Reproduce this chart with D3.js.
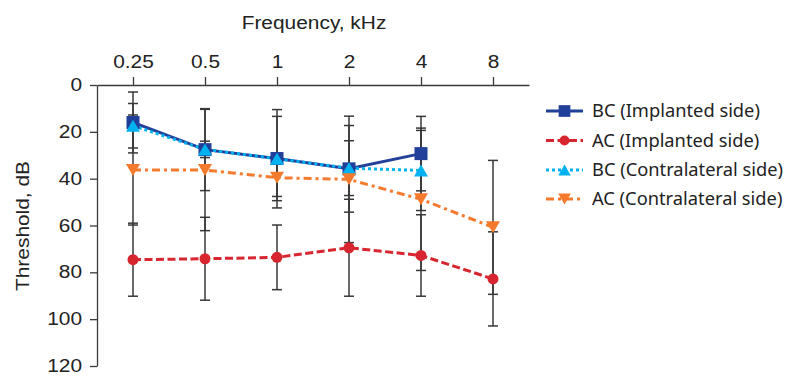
<!DOCTYPE html>
<html>
<head>
<meta charset="utf-8">
<script src="https://cdn.jsdelivr.net/npm/d3@7"></script>
<style>
body{margin:0;background:#fff;}
svg{display:block;}
.ax text{font-family:"Liberation Sans",Arial,sans-serif;font-size:18.5px;fill:#222;}
.ax path,.ax line{stroke:#3a3a3a;stroke-width:1.3;}
.leg text{font-family:"Noto Sans","Open Sans",sans-serif;font-size:18.3px;fill:#222;}
</style>
</head>
<body>
<div id="chart"></div>
<script>
const freqs=["0.25","0.5","1","2","4","8"];
const yTicks=[0,20,40,60,80,100,120];

// mean thresholds, dB (null = not measured)
const bcImp=[16,27.6,31.4,35.8,29.3,null];
const acImp=[74.6,74.2,73.6,69.5,72.8,82.8];
const bcCon=[17.4,27.5,31.5,35.5,36.5,null];
const acCon=[36.3,36.3,39.6,40.3,48.8,60.8];

// standard deviations
const bcImpSd=[13,17.5,18,18.5,15.9,null];
const acImpSd=[15.6,17.7,13.8,20.7,17.4,20.1];
const bcConSd=[9.5,3.5,21,11.7,17.1,null];
const acConSd=[23.5,25.9,8,27,30.4,28.6];

const series=[
  {name:"BC (Implanted side)",vals:bcImp,sd:bcImpSd,color:"#21409a",dash:null,marker:"square"},
  {name:"AC (Implanted side)",vals:acImp,sd:acImpSd,color:"#d7262f",dash:"8,3.5",marker:"circle"},
  {name:"BC (Contralateral side)",vals:bcCon,sd:bcConSd,color:"#00b2ef",dash:"3,3",marker:"triangle"},
  {name:"AC (Contralateral side)",vals:acCon,sd:acConSd,color:"#f47a2e",dash:"8,4,3,4",marker:"down"}
];
const drawOrder=[1,0,2,3];

const W=786,H=376;
const SX=1.13;
const svg=d3.select("#chart").append("svg").attr("width",W).attr("height",H);

const x=d3.scalePoint().domain(freqs).range([97,529]).padding(0.5);
const y=d3.scaleLinear().domain([0,120]).range([85,366]);

// axes
const gx=svg.append("g").attr("class","ax").attr("transform","translate(0,85)")
  .call(d3.axisTop(x).tickSize(8).tickSizeOuter(0).tickPadding(9));
gx.selectAll("text").attr("transform",`scale(${SX},1)`);

const gy=svg.append("g").attr("class","ax").attr("transform","translate(97,0)")
  .call(d3.axisLeft(y).tickValues(yTicks).tickSize(7).tickSizeOuter(0).tickPadding(8));
gy.selectAll("text").attr("x",-15/SX).attr("dy","0.3em").attr("transform",`scale(${SX},1)`);

const ax=svg.append("g").attr("class","ax");
ax.append("text").attr("text-anchor","middle")
  .attr("transform",`translate(314,28.5) scale(${SX},1)`)
  .text("Frequency, kHz");
ax.append("text").attr("text-anchor","middle")
  .attr("transform",`translate(29,226) rotate(-90) scale(${SX},1)`)
  .text("Threshold, dB");

// error bars
const eb=svg.append("g").attr("stroke","#383838").attr("stroke-width",1.5);
series.forEach(s=>{
  freqs.forEach((f,i)=>{
    const v=s.vals[i],sd=s.sd[i];
    if(v==null||sd==null)return;
    const cx=x(f);
    eb.append("line").attr("x1",cx).attr("x2",cx).attr("y1",y(v-sd)).attr("y2",y(v+sd));
    [v-sd,v+sd].forEach(c=>{
      eb.append("line").attr("x1",cx-5).attr("x2",cx+5).attr("y1",y(c)).attr("y2",y(c));
    });
  });
});

function marker(g,type,cx,cy,color,k){
  k=k||1;
  if(type==="square"){
    const s=13*k;
    g.append("rect").attr("x",cx-s/2).attr("y",cy-s/2).attr("width",s).attr("height",s).attr("fill",color);
  }else if(type==="circle"){
    g.append("circle").attr("cx",cx).attr("cy",cy).attr("r",5.5*k).attr("fill",color);
  }else{
    const w=14*k,h=12*k,sgn=type==="triangle"?1:-1;
    const pts=[[cx-w/2,cy+sgn*h/2],[cx+w/2,cy+sgn*h/2],[cx,cy-sgn*h/2]];
    g.append("path").attr("d","M"+pts.map(p=>p.join(",")).join("L")+"Z").attr("fill",color);
  }
}

// lines
const line=d3.line().defined(d=>d.v!=null).x(d=>x(d.f)).y(d=>y(d.v));
drawOrder.forEach(j=>{
  const s=series[j];
  svg.append("path").datum(freqs.map((f,i)=>({f,v:s.vals[i]})))
    .attr("d",line).attr("fill","none").attr("stroke",s.color)
    .attr("stroke-width",3).attr("stroke-dasharray",s.dash);
});
// markers
const mk=svg.append("g");
drawOrder.forEach(j=>{
  const s=series[j];
  freqs.forEach((f,i)=>{
    if(s.vals[i]==null)return;
    marker(mk,s.marker,x(f),y(s.vals[i]),s.color);
  });
});

// legend
const leg=svg.append("g").attr("class","leg");
const rowY=[111,140.5,170,199];
series.forEach((s,i)=>{
  const g=leg.append("g").attr("transform",`translate(0,${rowY[i]})`);
  g.append("line").attr("x1",546).attr("x2",583).attr("y1",0).attr("y2",0)
    .attr("stroke",s.color).attr("stroke-width",3).attr("stroke-dasharray",s.dash);
  marker(g,s.marker,564.5,0,s.color,0.9);
  g.append("text").attr("x",592).attr("y",0).attr("dy","0.35em").text(s.name);
});
</script>
</body>
</html>
